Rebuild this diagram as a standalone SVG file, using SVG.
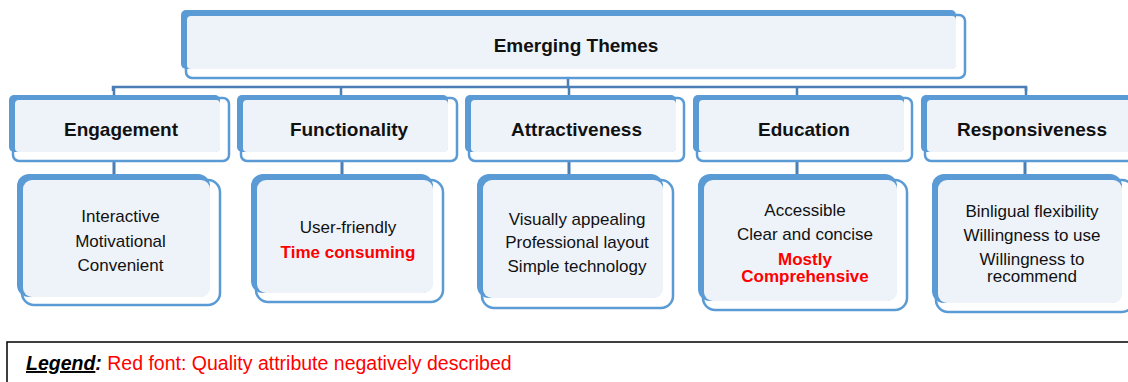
<svg xmlns="http://www.w3.org/2000/svg" width="1128" height="382" viewBox="0 0 1128 382">
<style>
.fr{fill:#fff;stroke:#5B9BD5;stroke-width:2.5}
.bk{fill:#5B9BD5}
.lt{fill:#EEF3FA}
.h{font-family:"Liberation Sans",Arial,sans-serif;font-weight:bold;font-size:19px;fill:#111;text-anchor:middle}
.t{font-family:"Liberation Sans",Arial,sans-serif;font-size:17px;fill:#111;text-anchor:middle}
.r{font-weight:bold;fill:#FF0000}
.cn{stroke:#4A7EB5;fill:none}
</style>
<rect width="1128" height="382" fill="#fff"/>
<g id="connectors">
<path class="cn" stroke-width="2.5" d="M113 91V87H1026V91M568 78V87"/>
<path class="cn" stroke-width="2.5" d="M114 87V95M341 87V95M569 87V95M797 87V95M1026 87V95"/>
<path class="cn" stroke-width="3" d="M114 161V174M342 161V174M569 161V174M797 161V174M1025 161V174"/>
</g>
<g id="root">
<rect class="fr" x="186" y="15" width="779" height="63" rx="6"/>
<rect class="bk" x="181" y="10" width="775" height="59" rx="5"/>
<rect class="lt" x="187" y="16" width="769" height="53" rx="4"/>
<text class="h" x="576" y="52" font-size="19.5">Emerging Themes</text>
</g>
<g id="engagement">
<rect class="fr" x="13" y="98" width="216" height="63" rx="6"/>
<rect class="bk" x="9" y="95" width="211" height="57" rx="5"/>
<rect class="lt" x="15" y="100" width="205" height="52" rx="4"/>
<text class="h" x="121" y="136">Engagement</text>
</g>
<g id="functionality">
<rect class="fr" x="241" y="98" width="216" height="63" rx="6"/>
<rect class="bk" x="237" y="95" width="211" height="57" rx="5"/>
<rect class="lt" x="243" y="100" width="205" height="52" rx="4"/>
<text class="h" x="349" y="136">Functionality</text>
</g>
<g id="attractiveness">
<rect class="fr" x="469" y="98" width="215" height="63" rx="6"/>
<rect class="bk" x="465" y="95" width="211" height="57" rx="5"/>
<rect class="lt" x="471" y="100" width="205" height="52" rx="4"/>
<text class="h" x="576.5" y="136">Attractiveness</text>
</g>
<g id="education">
<rect class="fr" x="697" y="98" width="215" height="63" rx="6"/>
<rect class="bk" x="693" y="95" width="211" height="57" rx="5"/>
<rect class="lt" x="699" y="100" width="205" height="52" rx="4"/>
<text class="h" x="804" y="136">Education</text>
</g>
<g id="responsiveness">
<rect class="fr" x="925" y="98" width="215" height="63" rx="6"/>
<rect class="bk" x="921" y="95" width="211" height="57" rx="5"/>
<rect class="lt" x="927" y="100" width="205" height="52" rx="4"/>
<text class="h" x="1032" y="136">Responsiveness</text>
</g>
<g id="engagement-items">
<rect class="fr" x="22" y="180" width="198" height="125" rx="12"/>
<rect class="bk" x="17" y="174" width="193" height="123" rx="12"/>
<rect class="lt" x="23" y="180" width="187" height="117" rx="9"/>
<text class="t" x="120.5" y="222">Interactive</text>
<text class="t" x="120.5" y="247">Motivational</text>
<text class="t" x="120.5" y="271">Convenient</text>
</g>
<g id="functionality-items">
<rect class="fr" x="256" y="180" width="187" height="122" rx="12"/>
<rect class="bk" x="251" y="174" width="182" height="119" rx="12"/>
<rect class="lt" x="257" y="180" width="176" height="113" rx="9"/>
<text class="t" x="348" y="233">User-friendly</text>
<text class="t r" x="348" y="258">Time consuming</text>
</g>
<g id="attractiveness-items">
<rect class="fr" x="482" y="180" width="191" height="128" rx="12"/>
<rect class="bk" x="477" y="174" width="186" height="124" rx="12"/>
<rect class="lt" x="483" y="180" width="180" height="118" rx="9"/>
<text class="t" x="577" y="225">Visually appealing</text>
<text class="t" x="577" y="248">Professional layout</text>
<text class="t" x="577" y="272">Simple technology</text>
</g>
<g id="education-items">
<rect class="fr" x="703" y="180" width="204" height="130" rx="12"/>
<rect class="bk" x="698" y="174" width="199" height="127" rx="12"/>
<rect class="lt" x="704" y="180" width="193" height="121" rx="9"/>
<text class="t" x="805" y="216">Accessible</text>
<text class="t" x="805" y="240">Clear and concise</text>
<text class="t r" x="805" y="265">Mostly</text>
<text class="t r" x="805" y="282">Comprehensive</text>
</g>
<g id="responsiveness-items">
<rect class="fr" x="936" y="180" width="198" height="132" rx="12"/>
<rect class="bk" x="932" y="174" width="190" height="129" rx="12"/>
<rect class="lt" x="938" y="180" width="184" height="123" rx="9"/>
<text class="t" x="1032" y="217">Binligual flexibility</text>
<text class="t" x="1032" y="241">Willingness to use</text>
<text class="t" x="1032" y="265">Willingness to</text>
<text class="t" x="1032" y="282">recommend</text>
</g>
<g id="legend">
<rect x="7" y="342" width="1130" height="50" fill="none" stroke="#000" stroke-width="1.5"/>
<text x="26" y="370" font-family="Liberation Sans, Arial, sans-serif" font-size="19.5" fill="#FF0000"><tspan font-weight="bold" font-style="italic" fill="#000" text-decoration="underline">Legend</tspan><tspan font-weight="bold" font-style="italic" fill="#000">:</tspan> Red font: Quality attribute negatively described</text>
</g>
</svg>
